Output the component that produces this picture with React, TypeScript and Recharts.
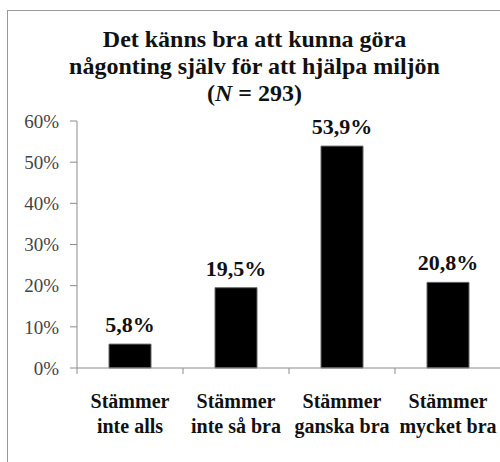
import React from 'react';
import { BarChart, Bar, XAxis, YAxis, LabelList } from 'recharts';

const categories = [
  'Stämmer\ninte alls',
  'Stämmer\ninte så bra',
  'Stämmer\nganska bra',
  'Stämmer\nmycket bra'
];
const shares = [5.8, 19.5, 53.9, 20.8];
const yTicks = [0, 10, 20, 30, 40, 50, 60];

const data = categories.map((name, i) => ({ name, value: shares[i] }));

const FONT = '"Liberation Serif", "Times New Roman", serif';
const AXIS_GREY = '#8c8c8c';

// category labels in two lines, tick mark drawn at the left band edge (Excel style)
function CategoryTick(props: any) {
  const { x, y, payload } = props;
  const half = payload && payload.offset != null ? payload.offset : 53;
  const axisY = y - 8;
  const lines = String(payload.value).split('\n');
  return (
    <g>
      <line x1={x - half} x2={x - half} y1={axisY} y2={axisY + 6} stroke={AXIS_GREY} />
      <text
        x={x}
        y={axisY + 40}
        textAnchor="middle"
        fontFamily={FONT}
        fontWeight="bold"
        fontSize={20}
        fill="#111"
      >
        {lines.map((l, i) => (
          <tspan key={i} x={x} dy={i === 0 ? 0 : 25}>
            {l}
          </tspan>
        ))}
      </text>
    </g>
  );
}

export default function App() {
  return (
    <div
      style={{
        position: 'absolute',
        left: 7,
        top: 10,
        width: 493,
        height: 452,
        borderLeft: '1px solid #999',
        borderTop: '1px solid #999',
        overflow: 'hidden',
        background: '#fff'
      }}
    >
      <div
        style={{
          position: 'absolute',
          left: 0,
          top: 15,
          width: 493,
          textAlign: 'center',
          fontFamily: FONT,
          fontWeight: 'bold',
          fontSize: 24,
          lineHeight: '27px',
          color: '#111'
        }}
      >
        Det känns bra att kunna göra
        <br />
        någonting själv för att hjälpa miljön
        <br />
        (<i>N</i> = 293)
      </div>
      <BarChart
        width={520}
        height={451}
        data={data}
        margin={{ top: 110, right: 27, left: 0, bottom: 34 }}
      >
        <XAxis
          dataKey="name"
          height={60}
          interval={0}
          tickSize={6}
          tickMargin={2}
          tickLine={false}
          axisLine={{ stroke: AXIS_GREY }}
          tick={<CategoryTick />}
        />
        <YAxis
          width={69}
          domain={[0, 60]}
          ticks={yTicks}
          interval={0}
          tickSize={7}
          tickMargin={11}
          tickFormatter={(v: number) => `${v}%`}
          axisLine={{ stroke: AXIS_GREY }}
          tickLine={{ stroke: AXIS_GREY }}
          tick={{ fontFamily: FONT, fontSize: 19, fill: '#444' }}
        />
        <Bar
          dataKey="value"
          fill="#000"
          stroke="#666"
          strokeWidth={1}
          barSize={42}
          isAnimationActive={false}
        >
          <LabelList
            dataKey="value"
            position="top"
            offset={12}
            formatter={(v: any) => `${String(v).replace('.', ',')}%`}
            style={{ fontFamily: FONT, fontWeight: 'bold', fontSize: 22, fill: '#111' }}
          />
        </Bar>
      </BarChart>
    </div>
  );
}
